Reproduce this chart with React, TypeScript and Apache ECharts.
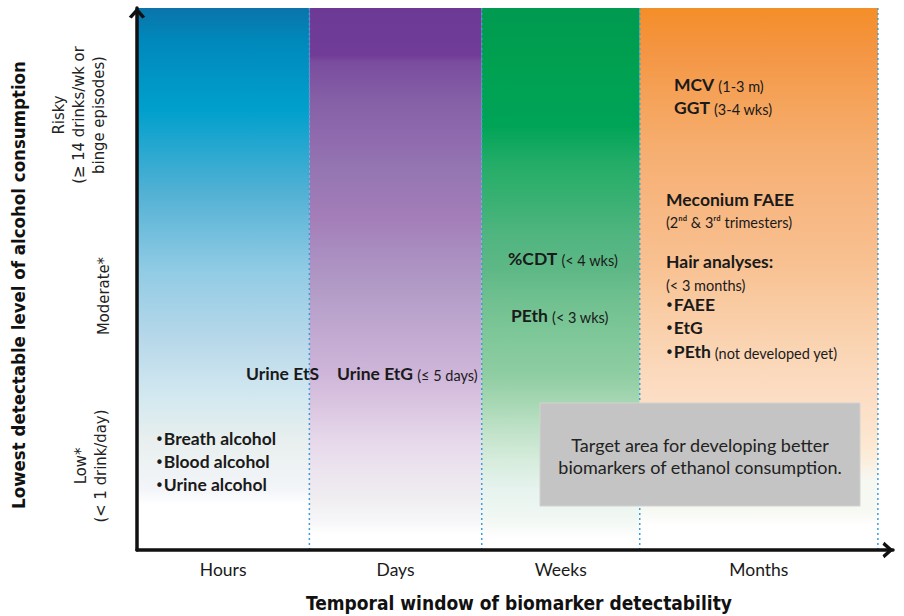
import React, { useEffect, useRef } from "react";
import * as echarts from "echarts";

// ---------- data ----------
const windows = ["Hours", "Days", "Weeks", "Months"];
const windowStart = [0, 22.8, 45.6, 66.5];
const windowEnd = [22.8, 45.6, 66.5, 98];
const windowTop = [100, 100, 100, 100];
const dividerX = [22.8, 45.6, 66.5, 98];

const yTitle = "Lowest detectable level of alcohol consumption";
const xTitle = "Temporal window of biomarker detectability";
const levelRisky = "Risky\n(≥ 14 drinks/wk or\nbinge episodes)";
const levelModerate = "Moderate*";
const levelLow = "Low*\n(< 1 drink/day)";

// ---------- styles ----------
const columnGradients: [number, string][][] = [
  [
    [0, "#0a74aa"], [0.059, "#0088bb"], [0.188, "#00a0cc"], [0.336, "#50b0d4"],
    [0.483, "#90cbe4"], [0.613, "#b8d8ea"], [0.714, "#d2e8f0"], [0.797, "#e8efee"],
    [0.889, "#f3f5f9"], [0.917, "#ffffff"], [1, "#ffffff"],
  ],
  [
    [0, "#6c3a94"], [0.087, "#703c98"], [0.1, "#7a4c9e"], [0.17, "#8560a6"],
    [0.225, "#8e68ac"], [0.3, "#9576b2"], [0.39, "#a47eb8"], [0.446, "#a98cc0"],
    [0.52, "#b29cc6"], [0.594, "#c0a8d0"], [0.668, "#cdb4d8"], [0.742, "#dcc8e2"],
    [0.797, "#e6d8ea"], [0.852, "#ece4ef"], [0.908, "#f0eef0"], [0.945, "#f6f6f8"],
    [0.972, "#ffffff"], [1, "#ffffff"],
  ],
  [
    [0, "#009a50"], [0.096, "#00a050"], [0.216, "#00a457"], [0.253, "#12a860"],
    [0.29, "#25ad68"], [0.345, "#36b070"], [0.419, "#50b580"], [0.483, "#5eb886"],
    [0.539, "#70c090"], [0.613, "#80c89a"], [0.677, "#8fcda2"], [0.732, "#a8d8b5"],
    [0.779, "#c0e2c8"], [0.834, "#d6ecdc"], [0.889, "#e6f3ee"], [0.945, "#f2f8f4"],
    [0.982, "#ffffff"], [1, "#ffffff"],
  ],
  [
    [0, "#f48e28"], [0.077, "#f49542"], [0.17, "#f5a35a"], [0.262, "#f6ae70"],
    [0.354, "#f7b680"], [0.465, "#f8c090"], [0.539, "#f9caa0"], [0.631, "#fad5b4"],
    [0.705, "#fcdcc2"], [0.779, "#fce4cc"], [0.825, "#fcecd8"], [0.871, "#f6f8f2"],
    [0.926, "#f6f8f2"], [0.954, "#ffffff"], [1, "#ffffff"],
  ],
];

const NARROW = "'Liberation Sans Narrow', 'DejaVu Sans Condensed', 'Roboto Condensed', sans-serif";
const BODY = "Lato, 'Open Sans', sans-serif";
const INK = "#1a1a1a";

const rich = {
  b: { fontFamily: BODY, fontWeight: "bold" as const, fontSize: 17.5, fill: INK, verticalAlign: "bottom" as const, lineHeight: 21 },
  n: { fontFamily: BODY, fontSize: 14.5, fill: INK, verticalAlign: "bottom" as const, lineHeight: 21 },
  bul: { fontFamily: "'DejaVu Sans', sans-serif", fontSize: 15, fill: INK, verticalAlign: "bottom" as const, lineHeight: 21 },
};

function label(x: number, y: number, text: string, align: "left" | "right" | "center" = "left") {
  return {
    type: "text",
    x,
    y,
    z: 20,
    style: { text, rich, align, verticalAlign: "middle", fill: INK, fontFamily: BODY, fontSize: 16 },
  };
}

export default function App() {
  const ref = useRef<HTMLDivElement>(null);
  useEffect(() => {
    const chart = echarts.init(ref.current!, undefined, { renderer: "svg" });
    const chevron = "path://M0,10 L9,0 L18,10 L14.8,12 L9,5.6 L3.2,12 Z";
    const axisLine = {
      show: true,
      onZero: false,
      symbol: ["none", chevron],
      symbolSize: [17, 11],
      symbolOffset: [0, -5],
      lineStyle: { color: "#111", width: 3.5 },
    };
    const columnData = windows.map((_, i) => [windowStart[i], windowEnd[i], windowTop[i]]);

    const option: any = {
      animation: false,
      backgroundColor: "#ffffff",
      grid: { left: 137, right: 11, top: 8, bottom: 66 },
      xAxis: {
        type: "value",
        min: 0,
        max: 100,
        z: 10,
        axisLine,
        axisTick: { show: false },
        axisLabel: { show: false },
        splitLine: { show: false },
      },
      yAxis: {
        type: "value",
        min: 0,
        max: 100,
        z: 10,
        axisLine,
        axisTick: { show: false },
        axisLabel: { show: false },
        splitLine: { show: false },
      },
      series: [
        {
          type: "custom",
          name: "windows",
          data: columnData,
          encode: { x: [0, 1], y: 2 },
          z: 2,
          renderItem: (params: any, api: any) => {
            const i = params.dataIndex;
            const p0 = api.coord([api.value(0), api.value(2)]);
            const p1 = api.coord([api.value(1), 0]);
            return {
              type: "group",
              children: [
                {
                  type: "rect",
                  shape: { x: p0[0], y: p0[1], width: p1[0] - p0[0], height: p1[1] - p0[1] },
                  style: {
                    fill: new echarts.graphic.LinearGradient(
                      0, 0, 0, 1,
                      columnGradients[i].map(([offset, color]) => ({ offset, color }))
                    ),
                  },
                },
                {
                  type: "text",
                  x: (p0[0] + p1[0]) / 2,
                  y: p1[1] + 19,
                  style: {
                    text: windows[i],
                    fill: INK,
                    fontFamily: BODY,
                    fontSize: 17.5,
                    align: "center",
                    verticalAlign: "middle",
                  },
                },
              ],
            };
          },
        },
        {
          type: "custom",
          name: "dividers",
          data: dividerX.map((x) => [x]),
          encode: { x: 0 },
          z: 3,
          renderItem: (params: any, api: any) => {
            const a = api.coord([api.value(0), 100]);
            const b = api.coord([api.value(0), 0]);
            return {
              type: "line",
              shape: { x1: a[0], y1: a[1], x2: b[0], y2: b[1] },
              style: { stroke: "#3d9ddb", lineWidth: 1.5, lineDash: [2, 3] },
            };
          },
        },
      ],
      graphic: [
        // axis titles
        {
          type: "text", x: 18, y: 285, rotation: Math.PI / 2, z: 20,
          style: { text: yTitle, fill: "#111", fontFamily: NARROW, fontWeight: "bold", fontSize: 18.5, align: "center", verticalAlign: "middle" },
        },
        {
          type: "text", x: 519, y: 603, z: 20,
          style: { text: xTitle, fill: "#111", fontFamily: NARROW, fontWeight: "bold", fontSize: 19, align: "center", verticalAlign: "middle" },
        },
        // level labels
        {
          type: "text", x: 78, y: 115, rotation: Math.PI / 2, z: 20,
          style: { text: levelRisky, fill: "#222", fontFamily: NARROW, fontSize: 16.5, lineHeight: 20, align: "center", verticalAlign: "middle" },
        },
        {
          type: "text", x: 103, y: 296, rotation: Math.PI / 2, z: 20,
          style: { text: levelModerate, fill: "#222", fontFamily: NARROW, fontSize: 16.5, lineHeight: 20, align: "center", verticalAlign: "middle" },
        },
        {
          type: "text", x: 90, y: 466, rotation: Math.PI / 2, z: 20,
          style: { text: levelLow, fill: "#222", fontFamily: NARROW, fontSize: 16.5, lineHeight: 20, align: "center", verticalAlign: "middle" },
        },
        // Hours / Days annotations
        label(319, 372, "{b|Urine EtS}", "right"),
        label(337, 372, "{b|Urine EtG} {n|(≤ 5 days)}"),
        label(155, 437, "{bul|•}{b|Breath alcohol}"),
        label(155, 460, "{bul|•}{b|Blood alcohol}"),
        label(155, 483, "{bul|•}{b|Urine alcohol}"),
        // Weeks
        label(508, 257, "{b|%CDT} {n|(< 4 wks)}"),
        label(511, 314, "{b|PEth} {n|(< 3 wks)}"),
        // Months
        label(674, 83, "{b|MCV} {n|(1-3 m)}"),
        label(674, 106, "{b|GGT} {n|(3-4 wks)}"),
        label(666, 198, "{b|Meconium FAEE}"),
        label(666, 219, "{n|(2ⁿᵈ & 3ʳᵈ trimesters)}"),
        label(666, 260, "{b|Hair analyses:}"),
        label(666, 282, "{n|(< 3 months)}"),
        label(665, 303, "{bul|•}{b|FAEE}"),
        label(665, 326, "{bul|•}{b|EtG}"),
        label(665, 350, "{bul|•}{b|PEth} {n|(not developed yet)}"),
        // target box
        {
          type: "rect", z: 15,
          shape: { x: 540, y: 403, width: 320, height: 103 },
          style: { fill: "#c4c4c4", stroke: "#d2d2d2", lineWidth: 1 },
        },
        {
          type: "text", x: 700, y: 456, z: 20,
          style: {
            text: "Target area for developing better\nbiomarkers of ethanol consumption.",
            fill: "#222", fontFamily: BODY, fontSize: 18, lineHeight: 22, align: "center", verticalAlign: "middle",
          },
        },
      ],
    };
    chart.setOption(option);
    return () => chart.dispose();
  }, []);
  return (
    <div
      ref={ref}
      style={{ position: "fixed", left: 0, top: 0, width: 904, height: 616, background: "#fff" }}
    />
  );
}
